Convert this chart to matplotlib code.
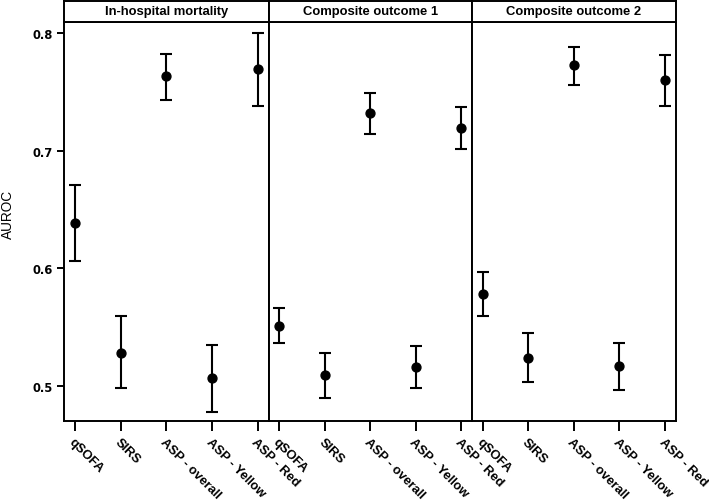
import matplotlib
matplotlib.use("Agg")
import matplotlib.pyplot as plt

plt.rcParams['font.family'] = ['Liberation Sans', 'DejaVu Sans']

panels = ["In-hospital mortality", "Composite outcome 1", "Composite outcome 2"]
categories = ["qSOFA", "SIRS", "ASP - overall", "ASP - Yellow", "ASP - Red"]

auc = [
    [0.638, 0.528, 0.763, 0.507, 0.769],
    [0.551, 0.509, 0.732, 0.516, 0.719],
    [0.578, 0.524, 0.773, 0.517, 0.760],
]
lower = [
    [0.606, 0.498, 0.743, 0.478, 0.738],
    [0.536, 0.490, 0.714, 0.498, 0.701],
    [0.559, 0.503, 0.756, 0.496, 0.738],
]
upper = [
    [0.671, 0.559, 0.782, 0.535, 0.800],
    [0.566, 0.528, 0.749, 0.534, 0.737],
    [0.597, 0.545, 0.788, 0.536, 0.781],
]
yticks = [0.5, 0.6, 0.7, 0.8]

W, H = 709, 502
fig = plt.figure(figsize=(W / 100, H / 100), dpi=100)

left_px = [64.3, 268.5, 472.0]
width_px = [204.2, 203.5, 204.0]
bottom_px, top_px = 422.3, 23.0
strip_top_px = 1.7

lw = 1.4
for i, name in enumerate(panels):
    ax = fig.add_axes([left_px[i] / W, (H - bottom_px) / H,
                       width_px[i] / W, (bottom_px - top_px) / H])
    x = list(range(1, len(categories) + 1))
    yerr = [[a - l for a, l in zip(auc[i], lower[i])],
            [u - a for a, u in zip(auc[i], upper[i])]]
    ax.errorbar(x, auc[i], yerr=yerr, fmt='o', color='black', ms=6.4,
                elinewidth=1.5, capsize=4.2, capthick=1.5)
    ax.set_xlim(0.766, 5.24)
    ax.set_ylim(0.4698, 0.8093)
    ax.set_xticks(x)
    ax.set_xticklabels(categories, rotation=-45, ha='left', va='top',
                       rotation_mode='anchor', fontsize=9.4, fontweight='bold')
    ax.tick_params(axis='x', direction='out', length=7, width=lw, pad=3)
    if i == 0:
        ax.set_yticks(yticks)
        ax.set_yticklabels([f"{v:.1f}" for v in yticks], fontsize=8.3,
                           fontweight='bold', family='DejaVu Sans')
        ax.tick_params(axis='y', direction='out', length=5, width=lw, pad=3.3)
    else:
        ax.set_yticks([])
    for s in ax.spines.values():
        s.set_linewidth(lw)

    sax = fig.add_axes([left_px[i] / W, (H - top_px) / H,
                        width_px[i] / W, (top_px - strip_top_px) / H])
    sax.set_xticks([])
    sax.set_yticks([])
    for s in sax.spines.values():
        s.set_linewidth(lw)
    sax.text(0.5, 0.5, name, ha='center', va='center', fontsize=9.4,
             fontweight='bold', transform=sax.transAxes)

fig.text(8 / W, 1 - 214 / H, "AUROC", rotation=90, ha='center', va='center',
         fontsize=9.8)

fig.savefig("out.png", dpi=100)
